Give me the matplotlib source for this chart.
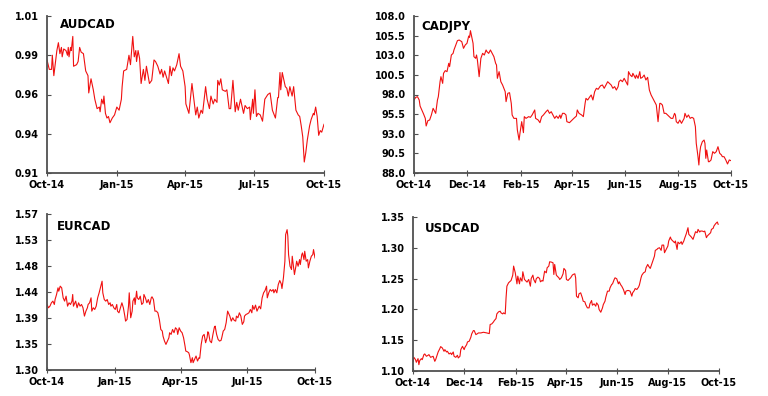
import matplotlib
matplotlib.use("Agg")
import matplotlib.pyplot as plt
import matplotlib.dates as mdates
import pandas as pd

start = pd.Timestamp("2014-10-01")
end = pd.Timestamp("2015-10-01")

# AUDCAD
aud_days = [0, 3, 6, 7, 9, 11, 13, 15, 17, 19,
            20, 22, 25, 27, 28, 29, 31, 32, 34, 35,
            39, 41, 43, 45, 48, 51, 54, 55, 58, 61,
            63, 66, 69, 70, 72, 74, 75, 77, 79, 81,
            83, 86, 89, 92, 95, 98, 99, 101, 105, 108,
            110, 113, 115, 117, 118, 120, 122, 124, 127, 129,
            131, 135, 138, 141, 143, 146, 149, 151, 153, 155,
            160, 162, 164, 166, 168, 171, 174, 176, 179, 182,
            183, 185, 187, 191, 193, 196, 198, 200, 203, 205,
            209, 211, 214, 216, 219, 221, 224, 225, 227, 229,
            231, 235, 237, 240, 242, 245, 248, 250, 252, 255,
            259, 261, 264, 267, 268, 271, 272, 274, 276, 278,
            281, 284, 287, 291, 294, 297, 301, 304, 305, 307,
            308, 310, 314, 316, 318, 320, 323, 325, 328, 331,
            333, 335, 337, 339, 341, 343, 346, 348, 351, 352,
            354, 356, 358, 360, 362, 365]
aud_values = [0.982, 0.976, 0.976, 0.985, 0.972, 0.980, 0.988, 0.993, 0.986, 0.990,
              0.984, 0.989, 0.988, 0.985, 0.990, 0.984, 0.990, 0.988, 0.997, 0.978,
              0.979, 0.981, 0.990, 0.987, 0.986, 0.975, 0.972, 0.961, 0.970, 0.963,
              0.957, 0.951, 0.952, 0.949, 0.957, 0.954, 0.959, 0.948, 0.945, 0.946,
              0.942, 0.945, 0.947, 0.952, 0.950, 0.957, 0.965, 0.975, 0.976, 0.985,
              0.979, 0.997, 0.984, 0.988, 0.981, 0.988, 0.983, 0.967, 0.976, 0.969,
              0.978, 0.967, 0.969, 0.982, 0.981, 0.978, 0.973, 0.976, 0.971, 0.975,
              0.967, 0.978, 0.972, 0.977, 0.975, 0.979, 0.986, 0.978, 0.975, 0.965,
              0.954, 0.951, 0.948, 0.967, 0.959, 0.947, 0.952, 0.945, 0.950, 0.948,
              0.965, 0.957, 0.951, 0.959, 0.954, 0.957, 0.955, 0.969, 0.966, 0.970,
              0.963, 0.962, 0.963, 0.951, 0.951, 0.969, 0.949, 0.955, 0.950, 0.957,
              0.948, 0.953, 0.951, 0.952, 0.944, 0.957, 0.948, 0.963, 0.946, 0.948,
              0.947, 0.943, 0.957, 0.960, 0.961, 0.950, 0.945, 0.958, 0.958, 0.974,
              0.963, 0.974, 0.965, 0.964, 0.959, 0.965, 0.959, 0.965, 0.950, 0.947,
              0.946, 0.940, 0.933, 0.917, 0.923, 0.931, 0.940, 0.944, 0.948, 0.947,
              0.952, 0.946, 0.934, 0.937, 0.936, 0.941]
aud_yticks = [0.91, 0.935, 0.96, 0.985, 1.01]
aud_ylabels = ["0.91", "0.94", "0.96", "0.99", "1.01"]

# CADJPY
jpy_days = [0, 2, 4, 6, 7, 9, 11, 13, 14, 16,
            18, 20, 22, 23, 25, 27, 28, 30, 31, 33,
            34, 36, 38, 40, 41, 43, 45, 46, 50, 52,
            55, 57, 59, 61, 63, 64, 65, 66, 68, 69,
            71, 72, 73, 75, 77, 79, 81, 83, 84, 86,
            88, 91, 92, 94, 95, 96, 98, 100, 102, 105,
            106, 108, 110, 112, 113, 115, 116, 118, 119, 121,
            122, 124, 126, 127, 129, 132, 134, 136, 139, 140,
            143, 145, 147, 149, 152, 154, 156, 158, 160, 162,
            164, 166, 168, 169, 171, 173, 175, 176, 179, 182,
            184, 187, 188, 190, 193, 195, 197, 198, 200, 202,
            204, 206, 208, 210, 212, 214, 215, 217, 219, 221,
            223, 225, 227, 229, 231, 233, 235, 236, 238, 240,
            242, 244, 246, 247, 249, 251, 252, 255, 256, 258,
            260, 261, 263, 265, 267, 269, 271, 273, 275, 277,
            279, 281, 283, 284, 286, 288, 290, 292, 294, 296,
            298, 300, 301, 302, 304, 306, 308, 311, 312, 314,
            316, 318, 320, 322, 324, 325, 327, 328, 329, 330,
            332, 334, 335, 336, 337, 339, 340, 342, 344, 346,
            348, 350, 352, 354, 355, 357, 359, 361, 363, 365]
jpy_values = [97.30, 97.64, 97.72, 97.30, 96.53, 96.03, 95.52, 94.96, 93.99, 94.67,
              94.75, 95.39, 96.24, 96.03, 95.60, 97.30, 97.72, 99.63, 100.27, 99.42,
              100.70, 101.04, 100.91, 101.97, 101.55, 103.03, 103.24, 103.67, 104.86, 104.94,
              104.73, 103.88, 104.31, 104.52, 105.45, 105.28, 106.13, 105.58, 104.52, 102.82,
              102.61, 103.03, 102.39, 100.27, 102.61, 103.24, 103.03, 103.67, 103.46, 103.24,
              103.67, 103.03, 102.82, 101.97, 101.76, 100.06, 100.91, 99.63, 99.21, 98.36,
              97.09, 98.15, 98.23, 96.87, 95.39, 94.96, 94.96, 94.96, 93.48, 92.20,
              93.05, 94.54, 93.14, 95.18, 94.96, 95.18, 95.09, 95.39, 96.03, 94.96,
              94.75, 94.41, 95.18, 95.39, 95.81, 96.03, 95.60, 95.81, 95.39, 94.96,
              95.26, 94.96, 95.39, 94.96, 95.60, 95.60, 95.39, 94.54, 94.41, 94.75,
              94.96, 95.26, 96.03, 95.60, 95.39, 95.18, 96.87, 97.51, 97.30, 97.64,
              97.94, 97.30, 98.36, 98.79, 98.66, 99.00, 99.13, 99.21, 98.79, 99.21,
              99.63, 99.42, 99.21, 98.79, 99.00, 98.57, 99.00, 99.63, 99.85, 99.63,
              100.06, 99.63, 99.21, 100.91, 100.48, 100.27, 100.70, 100.06, 100.48, 100.06,
              100.91, 100.06, 100.19, 100.48, 99.85, 100.19, 98.57, 97.94, 97.51, 97.09,
              96.66, 94.54, 96.87, 96.87, 96.66, 95.60, 95.60, 95.39, 95.18, 94.96,
              94.96, 95.60, 95.39, 94.54, 94.33, 94.75, 94.33, 94.96, 95.60, 95.09,
              95.39, 94.96, 95.09, 94.96, 93.90, 91.78, 90.08, 89.02, 90.51, 91.35,
              91.99, 92.20, 91.78, 89.87, 90.93, 89.44, 89.44, 89.66, 90.72, 90.51,
              90.72, 91.35, 90.51, 90.30, 90.08, 90.08, 89.66, 89.15, 89.66, 89.57]
jpy_yticks = [88.0, 90.5, 93.0, 95.5, 98.0, 100.5, 103.0, 105.5, 108.0]
jpy_ylabels = ["88.0", "90.5", "93.0", "95.5", "98.0", "100.5", "103.0", "105.5", "108.0"]

# EURCAD
eur_days = [0, 2, 4, 6, 8, 10, 11, 13, 15, 16,
            18, 20, 22, 24, 26, 28, 30, 32, 34, 35,
            36, 39, 41, 43, 45, 47, 49, 51, 53, 55,
            56, 58, 60, 61, 63, 65, 67, 69, 71, 73,
            75, 76, 78, 80, 82, 84, 86, 87, 89, 91,
            93, 95, 96, 98, 100, 102, 104, 106, 107, 109,
            111, 112, 114, 116, 117, 119, 120, 122, 123, 125,
            127, 129, 131, 132, 134, 136, 138, 140, 142, 143,
            145, 147, 149, 151, 153, 155, 157, 158, 160, 162,
            164, 166, 167, 169, 171, 173, 175, 177, 178, 180,
            182, 184, 186, 188, 189, 191, 193, 194, 196, 198,
            199, 201, 203, 205, 207, 208, 210, 212, 214, 216,
            218, 219, 220, 222, 224, 226, 228, 229, 231, 233,
            235, 237, 238, 240, 242, 244, 246, 248, 249, 251,
            253, 255, 257, 258, 260, 262, 264, 266, 268, 269,
            271, 273, 275, 277, 279, 280, 282, 284, 286, 288,
            289, 291, 293, 295, 297, 299, 300, 302, 304, 306,
            308, 309, 311, 313, 315, 317, 319, 320, 322, 324,
            325, 327, 328, 329, 331, 333, 334, 336, 337, 339,
            340, 342, 344, 345, 347, 348, 350, 351, 353, 355,
            356, 358, 360, 362, 363, 365]
eur_values = [1.4134, 1.4077, 1.4105, 1.4163, 1.4192, 1.4134, 1.4220, 1.4307, 1.4422, 1.4364,
              1.4451, 1.4422, 1.4249, 1.4192, 1.4278, 1.4105, 1.4163, 1.4134, 1.4192, 1.4307,
              1.4105, 1.4192, 1.4077, 1.4163, 1.4105, 1.4134, 1.4077, 1.3933, 1.4019, 1.4077,
              1.4134, 1.4163, 1.4249, 1.4019, 1.4077, 1.4048, 1.4105, 1.4249, 1.4336, 1.4433,
              1.4537, 1.4336, 1.4220, 1.4192, 1.4220, 1.4134, 1.4163, 1.4105, 1.4134, 1.4077,
              1.4048, 1.4134, 1.4019, 1.3990, 1.4077, 1.4163, 1.4077, 1.3933, 1.3846, 1.3875,
              1.4105, 1.4336, 1.3904, 1.4019, 1.4192, 1.4249, 1.4134, 1.4364, 1.4249, 1.4220,
              1.4278, 1.4134, 1.4163, 1.4307, 1.4249, 1.4163, 1.4220, 1.4134, 1.4249, 1.4267,
              1.4220, 1.4019, 1.4019, 1.3990, 1.3875, 1.3702, 1.3674, 1.3587, 1.3501, 1.3443,
              1.3501, 1.3558, 1.3645, 1.3616, 1.3702, 1.3645, 1.3731, 1.3702, 1.3616, 1.3731,
              1.3674, 1.3645, 1.3558, 1.3414, 1.3328, 1.3317, 1.3299, 1.3259, 1.3127, 1.3213,
              1.3127, 1.3184, 1.3242, 1.3155, 1.3213, 1.3202, 1.3443, 1.3587, 1.3616, 1.3472,
              1.3558, 1.3662, 1.3645, 1.3501, 1.3472, 1.3616, 1.3743, 1.3760, 1.3616, 1.3530,
              1.3501, 1.3512, 1.3558, 1.3674, 1.3702, 1.3818, 1.4019, 1.3961, 1.3933, 1.3846,
              1.3904, 1.3858, 1.3846, 1.3933, 1.3904, 1.3990, 1.3933, 1.3789, 1.3835, 1.3933,
              1.3961, 1.3973, 1.3990, 1.4048, 1.3990, 1.4117, 1.4048, 1.4123, 1.4019, 1.4077,
              1.4105, 1.4059, 1.4249, 1.4336, 1.4376, 1.4451, 1.4249, 1.4336, 1.4393, 1.4364,
              1.4393, 1.4336, 1.4393, 1.4336, 1.4480, 1.4549, 1.4491, 1.4410, 1.4595, 1.4883,
              1.5343, 1.5429, 1.5314, 1.4998, 1.4796, 1.4739, 1.4969, 1.4767, 1.4652, 1.4796,
              1.4883, 1.4796, 1.4911, 1.4825, 1.4998, 1.5026, 1.4911, 1.5055, 1.4883, 1.4911,
              1.4767, 1.4883, 1.4969, 1.4998, 1.5084, 1.4940]
eur_yticks = [1.30, 1.345, 1.39, 1.435, 1.48, 1.525, 1.57]
eur_ylabels = ["1.30", "1.35", "1.39", "1.44", "1.48", "1.53", "1.57"]

# USDCAD
usd_days = [0, 1, 3, 4, 6, 7, 8, 10, 11, 13,
            14, 16, 18, 19, 21, 22, 24, 26, 27, 29,
            30, 32, 33, 35, 37, 38, 40, 41, 43, 45,
            46, 48, 49, 51, 53, 54, 56, 57, 59, 61,
            62, 64, 65, 67, 69, 70, 72, 73, 75, 77,
            78, 81, 84, 88, 91, 92, 94, 96, 97, 99,
            100, 102, 104, 105, 107, 108, 110, 111, 112, 114,
            116, 117, 119, 120, 122, 124, 125, 127, 128, 130,
            131, 133, 135, 136, 138, 140, 141, 143, 144, 146,
            147, 149, 151, 152, 154, 155, 157, 159, 160, 162,
            163, 165, 167, 168, 169, 171, 172, 174, 175, 177,
            179, 180, 182, 183, 185, 186, 188, 190, 191, 193,
            194, 195, 197, 198, 200, 202, 203, 205, 206, 208,
            210, 211, 213, 214, 216, 218, 219, 221, 222, 224,
            226, 227, 229, 230, 232, 234, 235, 237, 238, 240,
            241, 243, 245, 246, 248, 249, 251, 253, 254, 256,
            257, 259, 261, 262, 264, 265, 267, 269, 270, 272,
            273, 275, 277, 278, 280, 281, 283, 285, 286, 288,
            289, 291, 292, 294, 296, 297, 299, 300, 302, 304,
            305, 307, 308, 310, 312, 313, 315, 316, 318, 320,
            321, 323, 324, 326, 328, 329, 331, 332, 334, 336,
            337, 339, 340, 342, 343, 345, 347, 348, 350, 351,
            353, 355, 356, 358, 359, 361, 363, 364]
usd_values = [1.1157, 1.1222, 1.1184, 1.1141, 1.1201, 1.1103, 1.1168, 1.1201, 1.1184, 1.1266,
              1.1277, 1.1239, 1.1255, 1.1266, 1.1222, 1.1228, 1.1239, 1.1157, 1.1184, 1.1266,
              1.1309, 1.1363, 1.1396, 1.1374, 1.1320, 1.1347, 1.1309, 1.1320, 1.1277, 1.1293,
              1.1266, 1.1309, 1.1239, 1.1222, 1.1255, 1.1212, 1.1239, 1.1347, 1.1401, 1.1347,
              1.1385, 1.1428, 1.1472, 1.1483, 1.1548, 1.1602, 1.1656, 1.1656, 1.1591, 1.1607,
              1.1618, 1.1618, 1.1629, 1.1618, 1.1607, 1.1754, 1.1765, 1.1797, 1.1819, 1.1851,
              1.1927, 1.1960, 1.1971, 1.1944, 1.1927, 1.1944, 1.1927, 1.2188, 1.2377, 1.2432,
              1.2459, 1.2470, 1.2556, 1.2703, 1.2594, 1.2415, 1.2540, 1.2415, 1.2513, 1.2459,
              1.2611, 1.2486, 1.2459, 1.2443, 1.2486, 1.2377, 1.2502, 1.2556, 1.2486, 1.2432,
              1.2497, 1.2524, 1.2502, 1.2448, 1.2470, 1.2459, 1.2621, 1.2594, 1.2676, 1.2703,
              1.2773, 1.2768, 1.2757, 1.2567, 1.2730, 1.2556, 1.2540, 1.2513, 1.2486, 1.2513,
              1.2578, 1.2665, 1.2632, 1.2486, 1.2470, 1.2486, 1.2513, 1.2556, 1.2567, 1.2578,
              1.2513, 1.2215, 1.2188, 1.2253, 1.2269, 1.2188, 1.2133, 1.2123, 1.2079, 1.2025,
              1.2025, 1.2090, 1.2144, 1.2068, 1.2090, 1.2052, 1.2106, 1.2068, 1.1998, 1.1954,
              1.2025, 1.2079, 1.2133, 1.2198, 1.2296, 1.2296, 1.2350, 1.2405, 1.2415, 1.2486,
              1.2513, 1.2497, 1.2415, 1.2448, 1.2394, 1.2377, 1.2323, 1.2242, 1.2296, 1.2307,
              1.2307, 1.2296, 1.2215, 1.2269, 1.2307, 1.2339, 1.2323, 1.2361, 1.2394, 1.2513,
              1.2556, 1.2594, 1.2611, 1.2676, 1.2730, 1.2703, 1.2665, 1.2741, 1.2784, 1.2865,
              1.2958, 1.2974, 1.2990, 1.3001, 1.2958, 1.3044, 1.3044, 1.2920, 1.2974, 1.3028,
              1.3110, 1.3175, 1.3137, 1.3110, 1.3082, 1.3110, 1.2974, 1.3093, 1.3066, 1.3099,
              1.3055, 1.3110, 1.3153, 1.3229, 1.3326, 1.3218, 1.3191, 1.3175, 1.3137, 1.3218,
              1.3261, 1.3245, 1.3299, 1.3256, 1.3272, 1.3272, 1.3261, 1.3272, 1.3164, 1.3191,
              1.3218, 1.3245, 1.3299, 1.3316, 1.3354, 1.3392, 1.3419, 1.3381]
usd_yticks = [1.10, 1.15, 1.20, 1.25, 1.30, 1.35]
usd_ylabels = ["1.10", "1.15", "1.20", "1.25", "1.30", "1.35"]

quarterly = [1, 4, 7, 10]
bimonthly = [2, 4, 6, 8, 10, 12]

plt.rcParams["font.family"] = "DejaVu Sans"
RED = "#f01010"
AXIS = "#505050"


def draw(ax, name, days, values, yticks, ylabels, months, title_xy):
    dates = start + pd.to_timedelta(days, unit="D")
    ax.plot(dates, values, color=RED, linewidth=0.8)
    ax.set_xlim(start, end)
    ax.set_ylim(yticks[0], yticks[-1])
    ax.set_yticks(yticks)
    ax.set_yticklabels(ylabels)
    ax.xaxis.set_major_locator(mdates.MonthLocator(bymonth=months))
    ax.xaxis.set_major_formatter(mdates.DateFormatter("%b-%y"))
    for side in ["top", "right"]:
        ax.spines[side].set_visible(False)
    for side in ["left", "bottom"]:
        ax.spines[side].set_color(AXIS)
        ax.spines[side].set_linewidth(1.3)
    ax.tick_params(axis="y", direction="in", length=3, width=0.8, color=AXIS,
                   labelsize=7, pad=6)
    ax.tick_params(axis="x", direction="inout", length=4, width=0.8, color=AXIS,
                   labelsize=7, pad=3)
    for lab in ax.get_xticklabels() + ax.get_yticklabels():
        lab.set_fontweight("bold")
    ax.text(title_xy[0], title_xy[1], name, transform=ax.transAxes,
            fontsize=8.5, fontweight="bold", va="top", ha="left")
    ax.patch.set_alpha(0)


fig = plt.figure(figsize=(7.68, 3.96), dpi=100)

ax1 = fig.add_axes([47 / 768, 1 - 173 / 396, 277 / 768, 157 / 396])
draw(ax1, "AUDCAD", aud_days, aud_values, aud_yticks, aud_ylabels, quarterly, (0.047, 0.985))

ax2 = fig.add_axes([414 / 768, 1 - 173 / 396, 317 / 768, 157 / 396])
draw(ax2, "CADJPY", jpy_days, jpy_values, jpy_yticks, jpy_ylabels, bimonthly, (0.022, 0.975))

ax3 = fig.add_axes([47 / 768, 1 - 370 / 396, 268 / 768, 156 / 396])
draw(ax3, "EURCAD", eur_days, eur_values, eur_yticks, eur_ylabels, quarterly, (0.037, 0.96))

ax4 = fig.add_axes([413 / 768, 1 - 371 / 396, 306 / 768, 154 / 396])
draw(ax4, "USDCAD", usd_days, usd_values, usd_yticks, usd_ylabels, bimonthly, (0.039, 0.968))

fig.savefig("out.png", dpi=100)
